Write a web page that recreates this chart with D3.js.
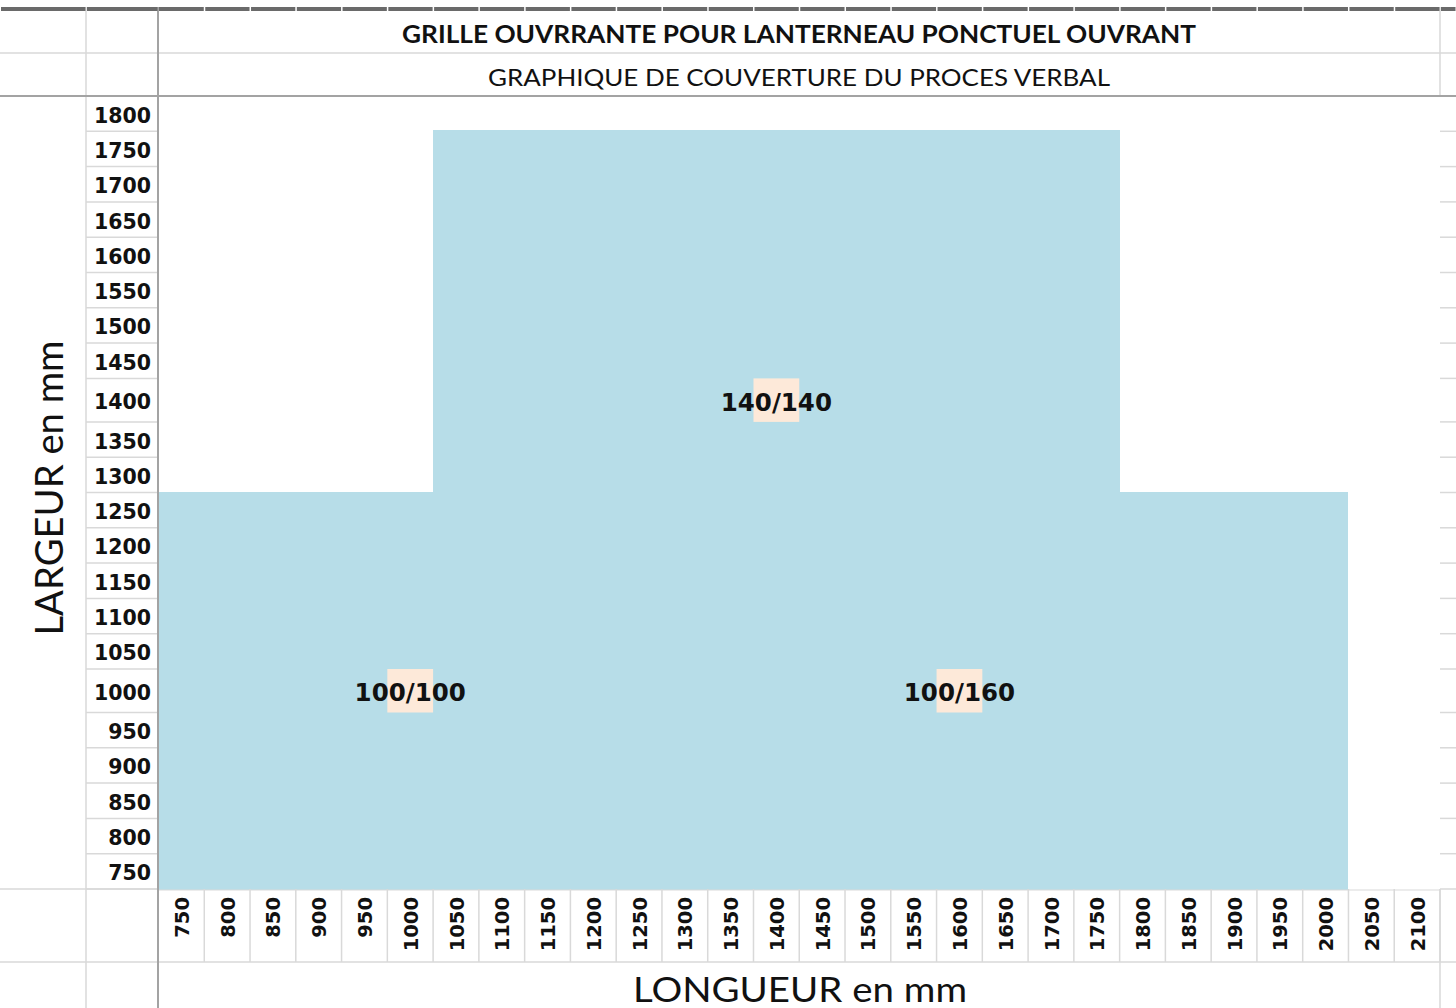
<!DOCTYPE html>
<html>
<head>
<meta charset="utf-8">
<script src="https://d3js.org/d3.v7.min.js"></script>
<style>
  body { margin: 0; background: #fff; }
  svg { display: block; }
  .num { font-family: "DejaVu Sans", Verdana, sans-serif; font-weight: bold; fill: #111; }
  .lbl { font-family: Lato, Calibri, sans-serif; fill: #111; }
</style>
</head>
<body>
<div id="sheet"></div>
<script>
// values read from the sheet
var LONGUEUR = [750, 800, 850, 900, 950, 1000, 1050, 1100, 1150, 1200, 1250, 1300, 1350, 1400,
                1450, 1500, 1550, 1600, 1650, 1700, 1750, 1800, 1850, 1900, 1950, 2000, 2050, 2100];
var LARGEUR = [1800, 1750, 1700, 1650, 1600, 1550, 1500, 1450, 1400, 1350, 1300, 1250,
               1200, 1150, 1100, 1050, 1000, 950, 900, 850, 800, 750];
// covered blocks: [from, to] in length and width
var BLOCK_LONGUEUR = [[750, 2000], [1050, 1750]];
var BLOCK_LARGEUR = [[750, 1250], [1300, 1750]];
// zone labels and the cell they sit in
var ZONE_TEXT = ["100/100", "140/140", "100/160"];
var ZONE_LONGUEUR = [1000, 1400, 1600];
var ZONE_LARGEUR = [1000, 1400, 1000];

var TITLE = "GRILLE OUVRRANTE POUR LANTERNEAU PONCTUEL OUVRANT",
    SUBTITLE = "GRAPHIQUE DE COUVERTURE DU PROCES VERBAL",
    X_TITLE = "LONGUEUR en mm",
    Y_TITLE = "LARGEUR en mm";

var W = 1456, H = 1008;
var COL_A = 86, COL_B = 158, COL_END = 1440;
var TOP_BAR = 7, ROW1 = 53, TABLE_TOP = 96, TABLE_BOTTOM = 889, XLAB_BOTTOM = 962;
var TALL_ROWS = [1400, 1000];
var GRID = "#d9d9d9", DARK = "#a3a3a3", BLUE = "#b7dde8", PEACH = "#fde9d9";

var svg = d3.select("#sheet").append("svg")
    .attr("width", W)
    .attr("height", H);

// scales
var xScale = d3.scaleBand()
    .domain(LONGUEUR)
    .range([COL_B + 0.5, COL_END])
    .padding(0);

var rowH = LARGEUR.map(function(v) { return TALL_ROWS.indexOf(v) > -1 ? 43.5 : 0; });
var normalH = (TABLE_BOTTOM - TABLE_TOP - d3.sum(rowH)) / (LARGEUR.length - TALL_ROWS.length);
rowH = rowH.map(function(h) { return h || normalH; });
var rowTops = Array.from(d3.cumsum([0].concat(rowH))).slice(0, LARGEUR.length);
var yScale = d3.scaleOrdinal()
    .domain(LARGEUR)
    .range(rowTops.map(function(t) { return TABLE_TOP + t; }));
var heightOf = d3.scaleOrdinal().domain(LARGEUR).range(rowH);
function rowBottom(v) { return yScale(v) + heightOf(v); }

// covered area
svg.append("g")
    .attr("shape-rendering", "crispEdges")
    .selectAll("rect")
    .data(BLOCK_LONGUEUR.map(function(d, i) { return { x: d, y: BLOCK_LARGEUR[i] }; }))
    .enter().append("rect")
    .attr("x", function(d) { return xScale(d.x[0]); })
    .attr("width", function(d) { return xScale(d.x[1]) + xScale.bandwidth() - xScale(d.x[0]); })
    .attr("y", function(d) { return yScale(d.y[1]) - 1; })
    .attr("height", function(d) { return rowBottom(d.y[0]) - yScale(d.y[1]) + 2; })
    .attr("fill", BLUE);

// label cells
var zones = ZONE_TEXT.map(function(t, i) { return { text: t, x: ZONE_LONGUEUR[i], y: ZONE_LARGEUR[i] }; });
svg.append("g").selectAll("rect")
    .data(zones)
    .enter().append("rect")
    .attr("x", function(d) { return xScale(d.x); })
    .attr("width", xScale.bandwidth())
    .attr("y", function(d) { return yScale(d.y); })
    .attr("height", function(d) { return heightOf(d.y); })
    .attr("fill", PEACH);

svg.append("g").selectAll("text")
    .data(zones)
    .enter().append("text")
    .attr("class", "num")
    .attr("x", function(d) { return xScale(d.x) + xScale.bandwidth() / 2; })
    .attr("y", function(d) { return yScale(d.y) + heightOf(d.y) / 2 + 2; })
    .attr("text-anchor", "middle")
    .attr("dominant-baseline", "central")
    .style("font-size", "24.5px")
    .text(function(d) { return d.text; });

// grid lines
var grid = svg.append("g").attr("fill", "none");
function line(x1, y1, x2, y2, color, w) {
  grid.append("line")
    .attr("x1", x1).attr("y1", y1).attr("x2", x2).attr("y2", y2)
    .attr("stroke", color).attr("stroke-width", w || 1.5);
}

// header rows
line(0, ROW1, W, ROW1, GRID);
line(COL_END, TOP_BAR, COL_END, TABLE_TOP, GRID);
// y label rows
LARGEUR.forEach(function(v) {
  line(COL_A, rowBottom(v), COL_B, rowBottom(v), GRID);
  line(COL_END, yScale(v), W, yScale(v), GRID);
});
line(COL_END, TABLE_BOTTOM, W, TABLE_BOTTOM, GRID);
// x label row
line(0, TABLE_BOTTOM, COL_B, TABLE_BOTTOM, GRID);
line(COL_B, TABLE_BOTTOM + 1, COL_END, TABLE_BOTTOM + 1, GRID, 1);
LONGUEUR.forEach(function(v) {
  line(xScale(v) + xScale.bandwidth(), TABLE_BOTTOM, xScale(v) + xScale.bandwidth(), XLAB_BOTTOM, GRID);
});
line(COL_END, TABLE_BOTTOM, COL_END, H, GRID);
line(0, XLAB_BOTTOM, W, XLAB_BOTTOM, GRID);
line(COL_A, TOP_BAR, COL_A, H, GRID);
// frozen pane borders
line(0, TABLE_TOP, W, TABLE_TOP, DARK, 2);
line(COL_B, TOP_BAR, COL_B, H, DARK, 2);

// column header bar with gaps at every column edge
var edges = [0, COL_A, COL_B].concat(LONGUEUR.map(function(v) { return xScale(v) + xScale.bandwidth(); }), [W]);
svg.append("g").selectAll("rect")
    .data(d3.pairs(edges))
    .enter().append("rect")
    .attr("x", function(d) { return d[0] + 1; })
    .attr("width", function(d) { return d[1] - d[0] - 1.5; })
    .attr("y", TOP_BAR)
    .attr("height", 4)
    .attr("fill", "#6a6a6a");

// y tick labels
svg.append("g").selectAll("text")
    .data(LARGEUR)
    .enter().append("text")
    .attr("class", "num")
    .attr("x", COL_B - 7)
    .attr("y", function(d) { return yScale(d) + heightOf(d) / 2 + 2; })
    .attr("text-anchor", "end")
    .attr("dominant-baseline", "central")
    .style("font-size", "20.5px")
    .text(function(d) { return d; });

// x tick labels, rotated
svg.append("g").selectAll("text")
    .data(LONGUEUR)
    .enter().append("text")
    .attr("class", "num")
    .attr("transform", function(d) {
      return "translate(" + (xScale(d) + xScale.bandwidth() / 2 + 0.5) + "," + (TABLE_BOTTOM + 8) + ") rotate(-90)";
    })
    .attr("text-anchor", "end")
    .attr("dy", "0.36em")
    .style("font-size", "19.5px")
    .text(function(d) { return d; });

// titles
var midX = (COL_B + COL_END) / 2;
svg.append("text")
    .attr("class", "lbl")
    .attr("x", midX).attr("y", 33)
    .attr("text-anchor", "middle")
    .attr("dominant-baseline", "central")
    .attr("textLength", 794).attr("lengthAdjust", "spacingAndGlyphs")
    .style("font-size", "24px").style("font-weight", "bold")
    .text(TITLE);

svg.append("text")
    .attr("class", "lbl")
    .attr("x", midX).attr("y", 76)
    .attr("text-anchor", "middle")
    .attr("dominant-baseline", "central")
    .attr("textLength", 622).attr("lengthAdjust", "spacingAndGlyphs")
    .style("font-size", "24px")
    .text(SUBTITLE);

svg.append("text")
    .attr("class", "lbl")
    .attr("x", midX + 1).attr("y", 1002)
    .attr("text-anchor", "middle")
    .attr("textLength", 334).attr("lengthAdjust", "spacingAndGlyphs")
    .style("font-size", "35px")
    .text(X_TITLE);

svg.append("text")
    .attr("class", "lbl")
    .attr("transform", "translate(47.5," + 488 + ") rotate(-90)")
    .attr("text-anchor", "middle")
    .attr("dominant-baseline", "central")
    .attr("textLength", 295).attr("lengthAdjust", "spacingAndGlyphs")
    .style("font-size", "38px")
    .text(Y_TITLE);
</script>
</body>
</html>
